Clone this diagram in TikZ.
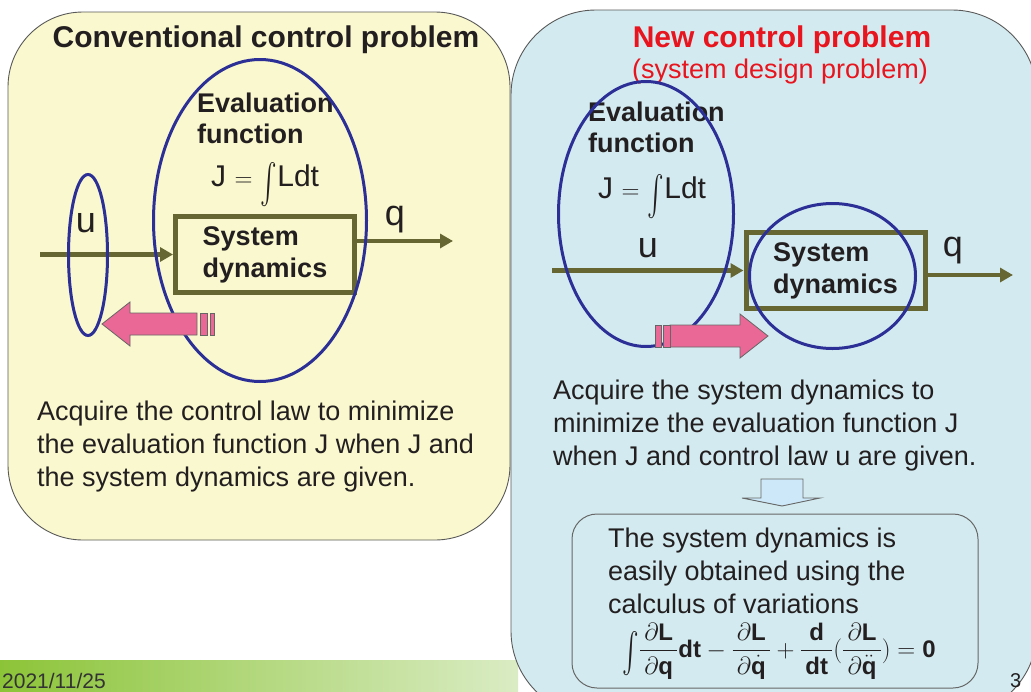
\documentclass[tikz,border=0pt]{standalone}
\usepackage{fontspec}
\setmainfont{Liberation Sans}
\usepackage{amsmath}
\usepackage{graphicx}
\usetikzlibrary{arrows.meta}

\definecolor{panelyellow}{RGB}{250,248,206}
\definecolor{panelblue}{RGB}{211,235,240}
\definecolor{ringblue}{RGB}{44,48,150}
\definecolor{olive}{RGB}{102,102,51}
\definecolor{pinkfill}{RGB}{234,104,150}
\definecolor{titlered}{RGB}{232,20,30}
\definecolor{ink}{RGB}{35,31,32}
\definecolor{barleft}{RGB}{140,196,56}
\definecolor{barright}{RGB}{218,236,196}
\definecolor{downfill}{RGB}{205,232,248}

% tall integral sign used in the formulas
\newcommand{\tallint}{\raisebox{-0.28em}{\scalebox{1}[1.6]{$\int$}}}
% padded fraction for the Euler equation
\newcommand{\pfrac}[2]{\frac{\,#1\,}{\,#2\,}}

\tikzset{
  panel/.style={draw=black!65, line width=0.9pt},
  txt/.style={text=ink, inner sep=0pt, font=\fontsize{27}{33}\selectfont, align=left},
  ttl/.style={inner sep=0pt, font=\bfseries\fontsize{30}{36}\selectfont},
  sub/.style={inner sep=0pt, font=\fontsize{27}{32}\selectfont},
  lbl/.style={text=ink, inner sep=0pt, font=\bfseries\fontsize{27}{31}\selectfont, align=left},
  sig/.style={text=ink, inner sep=0pt, font=\fontsize{36}{40}\selectfont},
  cost/.style={text=ink, inner sep=0pt, font=\fontsize{30}{34}\selectfont},
  sysbox/.style={draw=olive, line width=5pt, minimum width=179pt, minimum height=76pt,
    inner sep=0pt, text=ink, font=\bfseries\fontsize{27}{32}\selectfont, align=left},
  ring/.style={draw=ringblue, line width=3pt},
  flow/.style={draw=olive, line width=4.5pt, -{Triangle[length=13pt,width=14pt]}},
  pinkarrow/.style={fill=pinkfill, draw=black!60, line width=0.8pt},
}

\begin{document}
\begin{tikzpicture}[x=1pt,y=-1pt]
\useasboundingbox (0,0) rectangle (1031,691);
\clip (0,0) rectangle (1031,691);
\fill[white] (0,0) rectangle (1031,691);

% footer bar
\shade[left color=barleft, right color=barright] (0,660) rectangle (518,691);
\node[anchor=base west, inner sep=0pt, text=black!80, font=\fontsize{21}{24}\selectfont]
  (date) at (2,688) {2021/11/25};

% ---------------- left panel: conventional problem ----------------
\draw[panel, fill=panelyellow, rounded corners=75pt] (8,12) rectangle (510,540);
\node[ttl, text=ink, anchor=base] (ltitle) at (266,47) {Conventional control problem};

\node[lbl, anchor=north west] (leval) at (197,93) {Evaluation\\function};
\node[cost, anchor=base west] (lcost) at (211,186) {J $=$ \tallint Ldt};

\node[sysbox] (lbox) at (265,254.5) {System\\dynamics};
\coordinate (lin) at (40,254.5);
\coordinate (lout) at (453,241);
\draw[flow] (lin) -- (lbox.west);
\draw[flow] (lbox.east |- lout) -- (lout);
\node[sig, anchor=base] (lu) at (86,232) {u};
\node[sig, anchor=base] (lq) at (395,225) {q};

\draw[ring] (260,220.5) ellipse [x radius=106.5pt, y radius=161pt];
\draw[ring] (88,255) ellipse [x radius=19.5pt, y radius=80.5pt];

% feedback arrow toward the control law
\draw[pinkarrow] (197,313) -- (130,313) -- (130,302) -- (102,324) -- (130,346)
  -- (130,335) -- (197,335) -- cycle;
\draw[pinkarrow] (200,313) rectangle (207,335);
\draw[pinkarrow] (210,313) rectangle (214,335);

\node[txt, anchor=north west] (ltext) at (37,401)
  {Acquire the control law to minimize\\the evaluation function J when J and\\the system dynamics are given.};

% ---------------- right panel: system design problem ----------------
\draw[panel, fill=panelblue, rounded corners=85pt] (511,10) rectangle (1037,716);
\node[ttl, text=titlered, anchor=base] (rtitle) at (782,47) {New control problem};
\node[sub, text=titlered, anchor=base] (rsub) at (780,78) {(system design problem)};

\node[lbl, anchor=north west] (reval) at (588,102) {Evaluation\\function};
\node[cost, anchor=base west] (rcost) at (598,198) {J $=$ \tallint Ldt};

\node[sysbox] (rbox) at (835.5,270.5) {System\\dynamics};
\coordinate (rin) at (552,270.5);
\coordinate (rout) at (1013,275);
\draw[flow] (rin) -- (rbox.west);
\draw[flow] (rbox.east |- rout) -- (rout);
\node[sig, anchor=base] (ru) at (648,257) {u};
\node[sig, anchor=base] (rq) at (953,256) {q};

\draw[ring] (646,214) ellipse [x radius=87.5pt, y radius=132.5pt];
\draw[ring] (832.5,276) ellipse [x radius=83pt, y radius=72.5pt];

% design arrow toward the dynamics
\draw[pinkarrow] (670,325) -- (740,325) -- (740,314) -- (768,336) -- (740,358)
  -- (740,347) -- (670,347) -- cycle;
\draw[pinkarrow] (655,325) rectangle (661,347);
\draw[pinkarrow] (663,325) rectangle (670,347);

\node[txt, anchor=north west] (rtext) at (553,380)
  {Acquire the system dynamics to\\minimize the evaluation function J\\when J and control law u are given.};

% hollow down arrow
\draw[fill=downfill, draw=black!60, line width=0.9pt]
  (761,479) -- (803,479) -- (803,498) -- (820,498) -- (782,506) -- (742,498)
  -- (761,498) -- cycle;

% result box
\draw[draw=black!60, line width=1pt, rounded corners=25pt] (572,514) rectangle (978,688);
\node[txt, anchor=north west] (restext) at (608,528)
  {The system dynamics is\\easily obtained using the\\calculus of variations};
\node[text=ink, inner sep=0pt, font=\fontsize{24}{28}\selectfont] (euler) at (779,651)
  {$\displaystyle\tallint\pfrac{\partial\textbf{L}}{\partial\textbf{q}}\textbf{dt}
   -\pfrac{\partial\textbf{L}}{\partial\dot{\textbf{q}}}
   +\pfrac{\textbf{d}}{\textbf{dt}}(\pfrac{\partial\textbf{L}}{\partial\ddot{\textbf{q}}})
   =\textbf{0}$};

% page number
\node[anchor=base west, inner sep=0pt, text=ink, font=\fontsize{20}{24}\selectfont]
  (pageno) at (1010,687) {3};
\end{tikzpicture}
\end{document}
